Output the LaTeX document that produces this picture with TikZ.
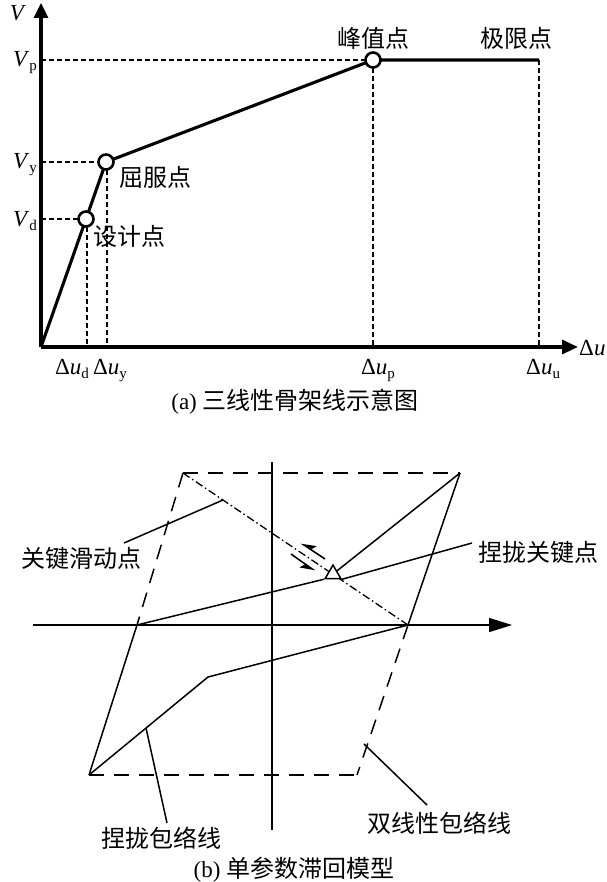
\documentclass[tikz,border=0pt]{standalone}
\usepackage{fontspec}
\setmainfont{Liberation Serif}
\newfontfamily\cjk{Noto Sans CJK SC}
\usetikzlibrary{arrows.meta,shapes.geometric}
\newcommand\mysub[1]{\raisebox{-4pt}{\fontsize{15pt}{15pt}\selectfont #1}}
\begin{document}
\begin{tikzpicture}[x=1pt,y=-1pt,
  thickline/.style={line width=3.1pt},
  dashA/.style={line width=2.6pt, dash pattern=on 5pt off 3pt},
  thinline/.style={line width=1.5pt},
  dashB/.style={line width=1.5pt, dash pattern=on 15pt off 10pt},
  dashdot/.style={line width=1.3pt, dash pattern=on 8pt off 3pt on 1.5pt off 3pt},
  keypt/.style={circle, draw, fill=white, line width=2.6pt, minimum size=15pt, inner sep=0pt},
  cn/.style={font=\fontsize{24pt}{28pt}\cjk, inner sep=0pt},
  lt/.style={font=\fontsize{23pt}{27pt}\selectfont, inner sep=0pt},
  tri/.style={regular polygon, regular polygon sides=3, draw, fill=white, line width=1.5pt, minimum size=18pt, inner sep=0pt},
  harp/.style={line width=1.6pt, -{Stealth[harpoon,swap,length=13pt,width=12pt,inset=3pt]}},
]
\useasboundingbox (0,0) rectangle (606,882);

% ---------------- (a) ----------------
\coordinate (O) at (41,347);
\coordinate (Ytop) at (41,3);
\coordinate (Xend) at (578,347);
\coordinate (cD) at (86,219);
\coordinate (cY) at (106,162);
\coordinate (cP) at (373,60);
\coordinate (cU) at (539,60);

% dashed guides
\draw[dashA] (O |- cP) -- (cP);
\draw[dashA] (O |- cY) -- (cY);
\draw[dashA] (O |- cD) -- (cD);
\draw[dashA] ([xshift=1pt]cD) -- ([xshift=1pt]cD |- O);
\draw[dashA] ([xshift=1pt]cY) -- ([xshift=1pt]cY |- O);
\draw[dashA] (cP) -- (cP |- O);
\draw[dashA] (cU) -- (cU |- O);

% skeleton curve
\draw[thickline, line join=miter] (O) -- (cD) -- (cY) -- (cP) -- (cU);

% axes
\draw[thickline, -{Triangle[length=15pt,width=14pt]}] (O) -- (Ytop);
\draw[thickline, -{Triangle[length=16pt,width=14pt]}] (O) -- (Xend);

% key points
\node[keypt] (D) at (cD) {};
\node[keypt] (Yd) at (cY) {};
\node[keypt] (P) at (cP) {};

% labels
\node[lt, anchor=base] (lV) at (18,21) {\textit{V}};
\node[lt, anchor=base east] (lVp) at (37,67) {\textit{V}\mysub{p}};
\node[lt, anchor=base east] (lVy) at (37,169) {\textit{V}\mysub{y}};
\node[lt, anchor=base east] (lVd) at (37,227) {\textit{V}\mysub{d}};
\node[lt, anchor=base west] (lud) at (55,374) {Δ\textit{u}\mysub{d}};
\node[lt, anchor=base west] (luy) at (93,374) {Δ\textit{u}\mysub{y}};
\node[lt, anchor=base west] (lup) at (361,374) {Δ\textit{u}\mysub{p}};
\node[lt, anchor=base west] (luu) at (526,374) {Δ\textit{u}\mysub{u}};
\node[lt, anchor=base west] (lu) at (579,355) {Δ\textit{u}};

\node[cn] (tP) at (373,38) {峰值点};
\node[cn] (tU) at (516,38) {极限点};
\node[cn] (tY) at (155,177) {屈服点};
\node[cn] (tD) at (129,236) {设计点};

\node[lt, anchor=center] (capA) at (295,402) {(a) {\fontsize{24pt}{28pt}\cjk 三线性骨架线示意图}};

% ---------------- (b) ----------------
\coordinate (TL) at (183,473);
\coordinate (TR) at (460,473);
\coordinate (BL) at (89,775);
\coordinate (BR) at (357,775);
\coordinate (XL) at (137,625);
\coordinate (XR) at (408,625);
\coordinate (K) at (208,677);
\coordinate (VT) at (272,462);
\coordinate (VB) at (272,830);
\coordinate (HL) at (33,625);
\coordinate (HR) at (512,625);

% axes
\draw[thinline] (VT) -- (VB);
\draw[thinline, -{Triangle[length=23pt,width=14pt]}] (HL) -- (HR);

% bilinear envelope
\draw[dashB] (TL) -- (TR);
\draw[dashB] (BL) -- (BR);
\draw[dashB] (TL) -- (XL);
\draw[dashB] (XR) -- (BR);
\draw[thinline] (XL) -- (BL);
\draw[thinline] (XR) -- (TR);

% pinching envelope
\draw[thinline] (BL) -- (K) -- (XR);

% sliding line
\draw[dashdot] (TL) -- (XR);

% pinching key point
\node[tri] (T) at (333,574) {};
\draw[thinline] (XL) -- (T.corner 2);
\draw[thinline] (T) -- (TR);

% harpoon arrows
\coordinate (a1s) at (325,559);
\coordinate (a1e) at (301,543);
\coordinate (a2s) at (291,554);
\coordinate (a2e) at (315,571);
\draw[harp] (a1s) -- (a1e);
\draw[harp] (a2s) -- (a2e);

% labels and leaders
\node[cn] (l1) at (81,558) {关键滑动点};
\node[cn] (l2) at (538,552) {捏拢关键点};
\node[cn] (l3) at (161,838) {捏拢包络线};
\node[cn] (l4) at (439,823) {双线性包络线};

\coordinate (e1a) at (124,543);
\coordinate (e1b) at (223,500);
\draw[thinline] (e1a) -- (e1b);
\coordinate (e2b) at (472,543);
\draw[thinline] (T.corner 3) -- (e2b);
\coordinate (e3a) at (146,728);
\coordinate (e3b) at (167,823);
\draw[thinline] (e3a) -- (e3b);
\coordinate (e4a) at (364,744);
\coordinate (e4b) at (427,805);
\draw[thinline] (e4a) -- (e4b);

\node[lt, anchor=center] (capB) at (294,870) {(b) {\fontsize{24pt}{28pt}\cjk 单参数滞回模型}};
\end{tikzpicture}
\end{document}
